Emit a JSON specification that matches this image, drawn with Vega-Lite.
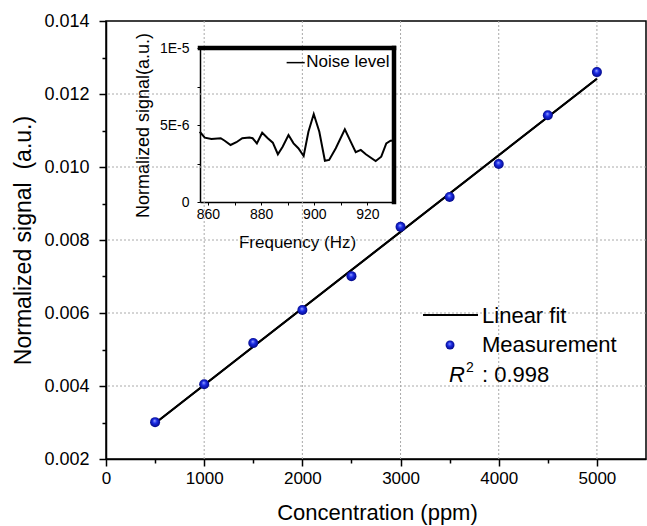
{
  "$schema": "https://vega.github.io/schema/vega-lite/v6.json",
  "width": 540,
  "height": 438,
  "autosize": {"type": "none"},
  "padding": {"left": 106, "top": 21, "right": 1, "bottom": 67},
  "background": "white",
  "config": {
    "view": {"stroke": "black", "strokeWidth": 1.5},
    "font": "Liberation Sans",
    "axis": {"grid": false},
    "text": {"font": "Liberation Sans", "color": "black"}
  },
  "datasets": {
    "measurement": [
      {"concentration": 500, "signal": 0.00301},
      {"concentration": 1000, "signal": 0.00405},
      {"concentration": 1500, "signal": 0.00518},
      {"concentration": 2000, "signal": 0.00608},
      {"concentration": 2500, "signal": 0.00701},
      {"concentration": 3000, "signal": 0.00836},
      {"concentration": 3500, "signal": 0.00918},
      {"concentration": 4000, "signal": 0.01008},
      {"concentration": 4500, "signal": 0.01142},
      {"concentration": 5000, "signal": 0.01260}
    ],
    "fit": [
      {"concentration": 500, "signal": 0.00298},
      {"concentration": 5000, "signal": 0.01242}
    ],
    "gridX": [
      {"concentration": 1000}, {"concentration": 2000}, {"concentration": 3000},
      {"concentration": 4000}, {"concentration": 5000}
    ],
    "gridY": [
      {"signal": 0.004}, {"signal": 0.006}, {"signal": 0.008},
      {"signal": 0.010}, {"signal": 0.012}
    ],
    "noise": [
      {"frequency": 856.9, "noise": 4.56e-6},
      {"frequency": 858.8, "noise": 4.18e-6},
      {"frequency": 861.3, "noise": 4.09e-6},
      {"frequency": 864.8, "noise": 4.14e-6},
      {"frequency": 866.3, "noise": 3.98e-6},
      {"frequency": 868.5, "noise": 3.70e-6},
      {"frequency": 870.7, "noise": 3.88e-6},
      {"frequency": 872.9, "noise": 4.14e-6},
      {"frequency": 875.6, "noise": 4.18e-6},
      {"frequency": 876.8, "noise": 4.14e-6},
      {"frequency": 878.4, "noise": 3.81e-6},
      {"frequency": 880.4, "noise": 4.50e-6},
      {"frequency": 882.5, "noise": 4.14e-6},
      {"frequency": 884.4, "noise": 3.85e-6},
      {"frequency": 886.3, "noise": 3.10e-6},
      {"frequency": 888.1, "noise": 3.59e-6},
      {"frequency": 890.3, "noise": 4.35e-6},
      {"frequency": 892.2, "noise": 3.81e-6},
      {"frequency": 894.0, "noise": 3.49e-6},
      {"frequency": 896.0, "noise": 2.99e-6},
      {"frequency": 897.8, "noise": 4.56e-6},
      {"frequency": 899.8, "noise": 5.71e-6},
      {"frequency": 901.9, "noise": 4.56e-6},
      {"frequency": 904.0, "noise": 2.68e-6},
      {"frequency": 905.6, "noise": 2.73e-6},
      {"frequency": 908.1, "noise": 3.49e-6},
      {"frequency": 911.5, "noise": 4.72e-6},
      {"frequency": 913.7, "noise": 3.92e-6},
      {"frequency": 915.6, "noise": 3.23e-6},
      {"frequency": 917.5, "noise": 3.38e-6},
      {"frequency": 919.4, "noise": 3.10e-6},
      {"frequency": 923.1, "noise": 2.66e-6},
      {"frequency": 925.2, "noise": 2.94e-6},
      {"frequency": 927.1, "noise": 3.81e-6},
      {"frequency": 928.7, "noise": 3.98e-6},
      {"frequency": 930.0, "noise": 4.00e-6}
    ]
  },
  "layer": [
    {
      "layer": [
        {
          "layer": [
            {
              "data": {"name": "fit"},
              "mark": {"type": "line", "color": "black", "strokeWidth": 2},
              "encoding": {
                "x": {
                  "field": "concentration",
                  "type": "quantitative",
                  "scale": {"domain": [0, 5500], "nice": false, "zero": false},
                  "axis": {
                    "title": "Concentration (ppm)",
                    "values": [0, 1000, 2000, 3000, 4000, 5000],
                    "format": "d",
                    "labelFontSize": 17,
                    "labelColor": "black",
                    "labelPadding": 4,
                    "labelFlush": false,
                    "labelOverlap": false,
                    "tickColor": "black",
                    "tickWidth": 1.5,
                    "tickSize": 7,
                    "domainColor": "black",
                    "domainWidth": 1.5,
                    "grid": false,
                    "titleFontSize": 22,
                    "titleFontWeight": "normal",
                    "titleColor": "black",
                    "titleX": 271,
                    "titleY": 53,
                    "titleBaseline": "middle"
                  }
                },
                "y": {
                  "field": "signal",
                  "type": "quantitative",
                  "scale": {"domain": [0.002, 0.014], "nice": false, "zero": false},
                  "axis": {
                    "title": "Normalized signal\u00a0 (a.u.)",
                    "values": [0.002, 0.004, 0.006, 0.008, 0.01, 0.012, 0.014],
                    "format": ".3f",
                    "labelFontSize": 18,
                    "labelColor": "black",
                    "labelPadding": 10,
                    "labelFlush": false,
                    "labelOverlap": false,
                    "tickColor": "black",
                    "tickWidth": 1.5,
                    "tickSize": 7,
                    "domainColor": "black",
                    "domainWidth": 1.5,
                    "grid": false,
                    "titleFontSize": 23,
                    "titleFontWeight": "normal",
                    "titleColor": "black",
                    "titleX": -83,
                    "titleY": 219,
                    "titleBaseline": "middle"
                  }
                }
              }
            },
            {
              "data": {"name": "gridX"},
              "mark": {"type": "rule", "color": "#aaaaaa", "strokeWidth": 1, "strokeDash": [2, 2]},
              "encoding": {"x": {"field": "concentration", "type": "quantitative"}}
            },
            {
              "data": {"name": "gridY"},
              "mark": {"type": "rule", "color": "#aaaaaa", "strokeWidth": 1, "strokeDash": [2, 2]},
              "encoding": {"y": {"field": "signal", "type": "quantitative"}}
            },
            {
              "data": {"name": "fit"},
              "mark": {"type": "line", "color": "black", "strokeWidth": 2},
              "encoding": {
                "x": {"field": "concentration", "type": "quantitative"},
                "y": {"field": "signal", "type": "quantitative"}
              }
            },
            {
              "data": {"name": "measurement"},
              "mark": {
                "type": "point",
                "filled": true,
                "size": 100,
                "opacity": 1,
                "strokeWidth": 0,
                "fill": {
                  "gradient": "radial",
                  "x1": 0.45, "y1": 0.35, "r1": 0,
                  "x2": 0.5, "y2": 0.5, "r2": 0.55,
                  "stops": [
                    {"offset": 0, "color": "#9aa6ff"},
                    {"offset": 0.4, "color": "#1a2be6"},
                    {"offset": 1, "color": "#00047a"}
                  ]
                }
              },
              "encoding": {
                "x": {"field": "concentration", "type": "quantitative"},
                "y": {"field": "signal", "type": "quantitative"}
              }
            },
            {
              "data": {"values": [{}]},
              "mark": {"type": "rule", "color": "black", "strokeWidth": 2},
              "encoding": {
                "x": {"datum": 3229},
                "x2": {"datum": 3789},
                "y": {"datum": 0.005945}
              }
            },
            {
              "data": {"values": [{}]},
              "mark": {
                "type": "point",
                "filled": true,
                "size": 80,
                "opacity": 1,
                "strokeWidth": 0,
                "fill": {
                  "gradient": "radial",
                  "x1": 0.45, "y1": 0.35, "r1": 0,
                  "x2": 0.5, "y2": 0.5, "r2": 0.55,
                  "stops": [
                    {"offset": 0, "color": "#9aa6ff"},
                    {"offset": 0.4, "color": "#1a2be6"},
                    {"offset": 1, "color": "#00047a"}
                  ]
                }
              },
              "encoding": {
                "x": {"datum": 3504},
                "y": {"datum": 0.005123}
              }
            },
            {
              "data": {"values": [{}]},
              "mark": {"type": "text", "text": "Linear fit", "align": "left", "baseline": "alphabetic", "fontSize": 22, "color": "black"},
              "encoding": {"x": {"datum": 3830}, "y": {"datum": 0.005726}}
            },
            {
              "data": {"values": [{}]},
              "mark": {"type": "text", "text": "Measurement", "align": "left", "baseline": "alphabetic", "fontSize": 22, "color": "black"},
              "encoding": {"x": {"datum": 3830}, "y": {"datum": 0.004932}}
            },
            {
              "data": {"values": [{}]},
              "mark": {"type": "text", "text": "R", "align": "left", "baseline": "alphabetic", "fontSize": 22, "fontStyle": "italic", "color": "black"},
              "encoding": {"x": {"datum": 3493}, "y": {"datum": 0.00411}}
            },
            {
              "data": {"values": [{}]},
              "mark": {"type": "text", "text": "2", "align": "left", "baseline": "alphabetic", "fontSize": 14, "dx": 17, "dy": -10, "color": "black"},
              "encoding": {"x": {"datum": 3493}, "y": {"datum": 0.00411}}
            },
            {
              "data": {"values": [{}]},
              "mark": {"type": "text", "text": ": 0.998", "align": "left", "baseline": "alphabetic", "fontSize": 22, "dx": 33, "color": "black"},
              "encoding": {"x": {"datum": 3493}, "y": {"datum": 0.00411}}
            }
          ]
        },
        {
          "data": {"name": "measurement"},
          "mark": {"type": "point", "opacity": 0},
          "encoding": {
            "x": {
              "field": "concentration",
              "type": "quantitative",
              "axis": {
                "orient": "bottom",
                "title": null,
                "values": [500, 1500, 2500, 3500, 4500],
                "labels": false,
                "grid": false,
                "domain": false,
                "ticks": true,
                "tickSize": 4,
                "tickWidth": 1.5,
                "tickColor": "black"
              }
            },
            "y": {
              "field": "signal",
              "type": "quantitative",
              "axis": {
                "orient": "left",
                "title": null,
                "values": [0.003, 0.005, 0.007, 0.009, 0.011, 0.013],
                "labels": false,
                "grid": false,
                "domain": false,
                "ticks": true,
                "tickSize": 4,
                "tickWidth": 1.5,
                "tickColor": "black"
              }
            }
          }
        }
      ],
      "resolve": {"axis": {"x": "independent", "y": "independent"}}
    },
    {
      "layer": [
        {
          "data": {"name": "noise"},
          "mark": {"type": "line", "color": "black", "strokeWidth": 2},
          "encoding": {
            "x": {
              "field": "frequency",
              "type": "quantitative",
              "scale": {"domain": [857, 930], "range": [94, 288], "nice": false, "zero": false},
              "axis": {
                "orient": "bottom",
                "offset": -257,
                "title": "Frequency (Hz)",
                "values": [860, 870, 880, 890, 900, 910, 920],
                "labelExpr": "datum.value % 20 === 0 ? datum.label : ''",
                "labelFontSize": 14,
                "labelColor": "black",
                "labelPadding": 2,
                "labelFlush": false,
                "labelOverlap": false,
                "tickColor": "black",
                "tickWidth": 1,
                "tickSize": 3,
                "domainColor": "black",
                "domainWidth": 1.5,
                "grid": false,
                "titleFontSize": 17,
                "titleFontWeight": "normal",
                "titleColor": "black",
                "titleX": 191,
                "titleY": 40,
                "titleBaseline": "middle"
              }
            },
            "y": {
              "field": "noise",
              "type": "quantitative",
              "scale": {"domain": [0, 1e-5], "range": [181, 27], "nice": false, "zero": false},
              "axis": {
                "orient": "left",
                "offset": -94,
                "title": "Normalized signal(a.u.)",
                "values": [0, 2.5e-6, 5e-6, 7.5e-6, 1e-5],
                "labelExpr": "datum.value === 0 ? '0' : (abs(datum.value - 5e-6) < 1e-9 ? '5E-6' : (abs(datum.value - 1e-5) < 1e-9 ? '1E-5' : ''))",
                "labelFontSize": 14,
                "labelColor": "black",
                "labelPadding": 8,
                "labelFlush": false,
                "labelOverlap": false,
                "tickColor": "black",
                "tickWidth": 1,
                "tickSize": 3,
                "domainColor": "black",
                "domainWidth": 1.5,
                "grid": false,
                "titleFontSize": 18,
                "titleFontWeight": "normal",
                "titleColor": "black",
                "titleX": -57,
                "titleY": 104,
                "titleBaseline": "middle"
              }
            }
          }
        },
        {
          "data": {"values": [{}]},
          "mark": {"type": "rule", "color": "black", "strokeWidth": 4.5, "strokeCap": "square"},
          "encoding": {"x": {"datum": 857}, "x2": {"datum": 930}, "y": {"datum": 1e-5}}
        },
        {
          "data": {"values": [{}]},
          "mark": {"type": "rule", "color": "black", "strokeWidth": 4.5, "strokeCap": "square"},
          "encoding": {"x": {"datum": 930}, "y": {"datum": 0}, "y2": {"datum": 1e-5}}
        },
        {
          "data": {"values": [{}]},
          "mark": {"type": "rule", "color": "black", "strokeWidth": 1.5},
          "encoding": {"x": {"datum": 889.6}, "x2": {"datum": 896.4}, "y": {"datum": 9.05e-6}}
        },
        {
          "data": {"values": [{}]},
          "mark": {"type": "text", "text": "Noise level", "align": "left", "baseline": "middle", "fontSize": 17, "color": "black"},
          "encoding": {"x": {"datum": 897}, "y": {"datum": 9.1e-6}}
        }
      ]
    }
  ],
  "resolve": {"scale": {"x": "independent", "y": "independent"}, "axis": {"x": "independent", "y": "independent"}}
}
